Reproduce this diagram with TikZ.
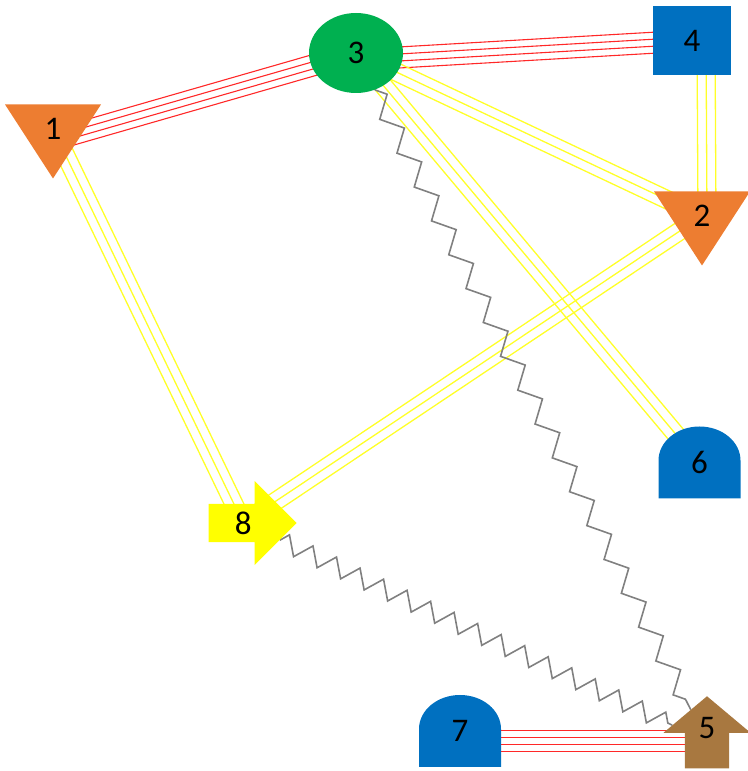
\documentclass[tikz,border=0pt]{standalone}
\usepackage{fontspec}
\setmainfont{Carlito}
\usepackage{tikz}
\usetikzlibrary{calc}
\usetikzlibrary{shapes.geometric, shapes.arrows}
\usetikzlibrary{decorations.pathmorphing}
\usetikzlibrary{backgrounds}

\definecolor{nodeorange}{RGB}{237,125,49}
\definecolor{nodegreen}{RGB}{0,176,80}
\definecolor{nodeblue}{RGB}{0,112,192}
\definecolor{nodeyellow}{RGB}{255,255,0}
\definecolor{nodebrown}{RGB}{168,120,64}
\definecolor{linkred}{RGB}{255,40,40}
\definecolor{linkyellow}{RGB}{255,255,40}
\definecolor{linkgray}{RGB}{128,128,128}

\tikzset{
  num/.style={font=\fontsize{33}{33}\selectfont, inner sep=0pt, text=black},
  tri/.style={num, isosceles triangle, isosceles triangle stretches,
    shape border rotate=270, fill=nodeorange, minimum width=96pt, minimum height=74pt},
  dome/.style={num, minimum width=82pt, minimum height=72pt, path picture={
      \fill[nodeblue] (path picture bounding box.south west) -- ++(0,38pt)
        arc[start angle=180, end angle=0, x radius=41pt, y radius=34pt]
        |- (path picture bounding box.south west) -- cycle;}},
  redlink/.style={draw=linkred, line width=1.1pt},
  yellowlink/.style={draw=linkyellow, line width=1.3pt},
  zz/.style={draw=linkgray, line width=1.6pt, decorate,
    decoration={zigzag, segment length=#1, amplitude=9pt}}
}

% parallel lines between two nodes: style, offsets, from, to
\newcommand{\links}[4]{%
  \foreach \o in {#2}
    \draw[#1] ($(#3)!\o*1pt!90:(#4)$) -- ($(#4)!\o*1pt!-90:(#3)$);}

\begin{document}
\begin{tikzpicture}[x=1pt, y=1pt]
    \useasboundingbox (0,0) rectangle (747,771);
    % Nodes
    \node[tri, anchor=apex] (n1) at (53,592) {1};
    \node[tri, anchor=apex] (n2) at (702,505) {2};
    \node[num, ellipse, fill=nodegreen, minimum width=94pt, minimum height=80pt] (n3) at (356,718) {3};
    \node[num, fill=nodeblue, minimum width=78pt, minimum height=69pt] (n4) at (692,730.5) {4};
    \node[num, single arrow, fill=nodebrown, shape border rotate=90, anchor=tip, inner xsep=11.5pt,
      minimum height=72pt, minimum width=87pt, single arrow head extend=19.5pt,
      single arrow tip angle=100] (n5) at (707,75) {\raisebox{13pt}[\height][\depth]{5}};
    \node[dome] (n6) at (699.5,308.5) {6};
    \node[dome] (n7) at (460,40) {7};
    \node[num, single arrow, fill=nodeyellow, anchor=tip, inner ysep=6pt,
      minimum height=88pt, minimum width=84pt, single arrow head extend=21pt,
      single arrow tip angle=90] (n8) at (297,248) {8};
    \path ([yshift=-10pt]n7.center) coordinate (p7);
    \coordinate (p5) at (p7 -| n5);

    % Links
    \begin{pgfonlayer}{background}
      \links{redlink}{-10.5,-3.5,3.5,10.5}{[yshift=-11pt]n1.center}{n3}
      \links{redlink}{-10.5,-3.5,3.5,10.5}{[yshift=-7pt]n3.center}{n4}
      \links{redlink}{-10.5,-3.5,3.5,10.5}{p7}{p5}
      \links{yellowlink}{-9,0,9}{n1}{n8}
      \links{yellowlink}{-9,0,9}{n3}{n2}
      \links{yellowlink}{-9,0,9}{n3}{n6}
      \links{yellowlink}{-9,0,9}{[xshift=14pt]n4.center}{[xshift=5pt]n2.center}
      \links{yellowlink}{-9,0,9}{n2}{n8}
      \draw[zz=38pt] (n3) -- (n5);
      \draw[zz=26pt] (n8) -- (n5);
    \end{pgfonlayer}
\end{tikzpicture}
\end{document}
